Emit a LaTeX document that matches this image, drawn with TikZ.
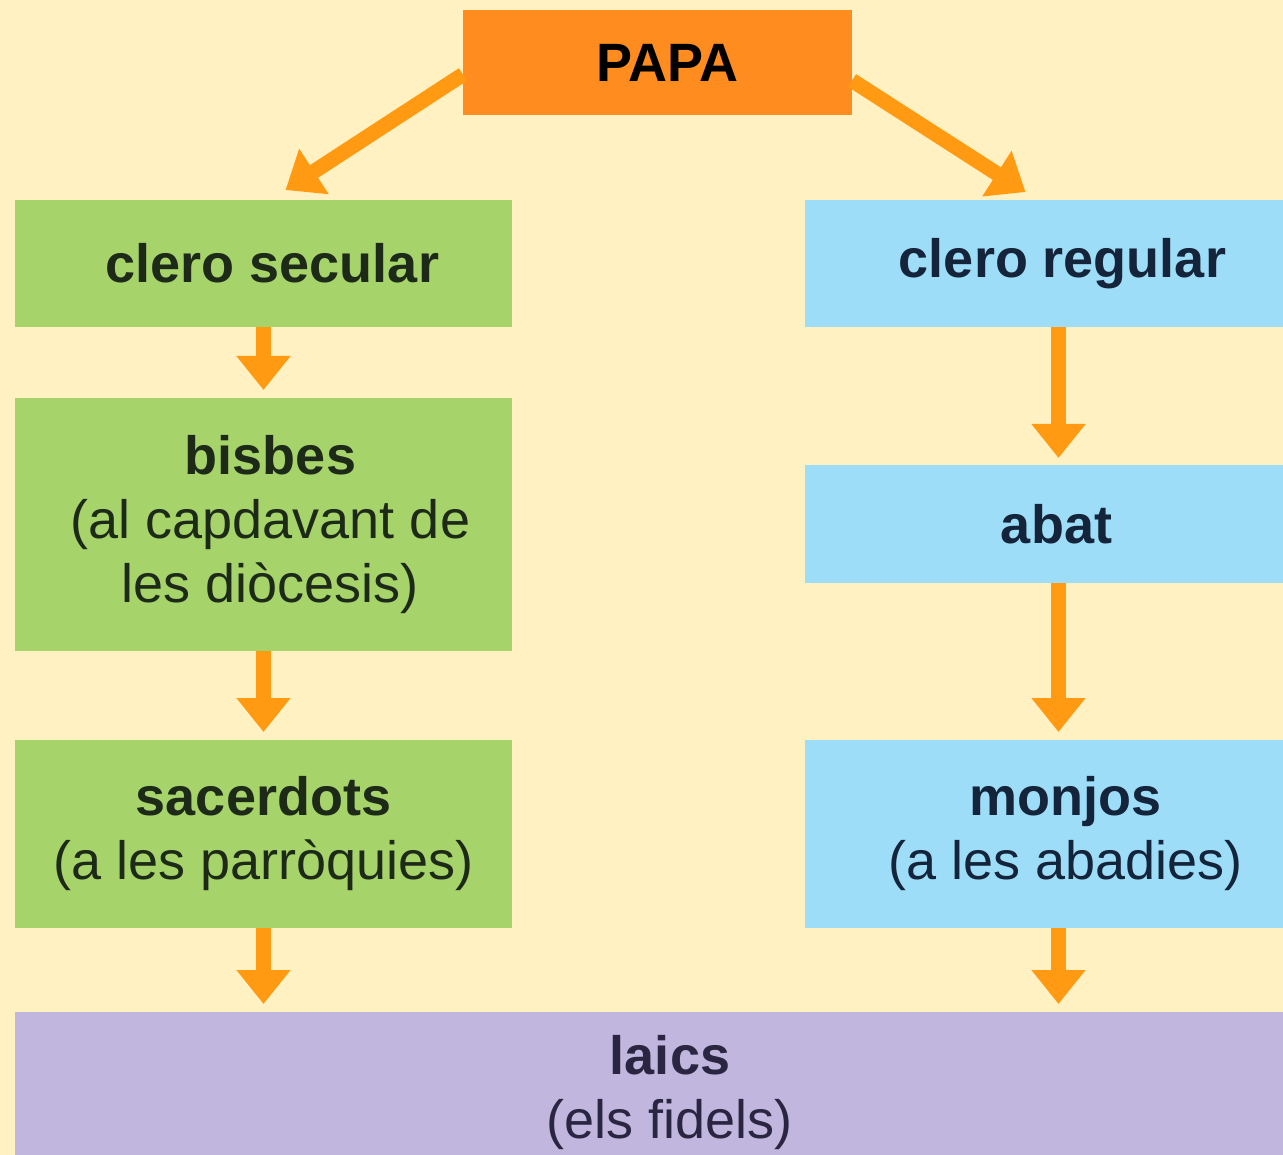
\documentclass[tikz,border=0pt]{standalone}
\usepackage{fontspec}
\setmainfont{Liberation Sans}
\usetikzlibrary{arrows.meta,calc}
\definecolor{bgc}{HTML}{FFF1C1}
\definecolor{papac}{HTML}{FF8C1E}
\definecolor{arrc}{HTML}{FF9A12}
\definecolor{greenc}{HTML}{A6D46B}
\definecolor{bluec}{HTML}{9EDDF8}
\definecolor{purplec}{HTML}{C0B6DE}
\definecolor{gtext}{HTML}{1E2A18}
\definecolor{btext}{HTML}{14243A}
\definecolor{ptext}{HTML}{2A2540}
\begin{document}
\begin{tikzpicture}[x=1pt,y=-1pt,
  box/.style={inner sep=0pt, outer sep=0pt, align=center, anchor=north west,
    font=\fontsize{54}{64}\selectfont},
  gbox/.style={box, fill=greenc, text=gtext, minimum width=497pt},
  bbox/.style={box, fill=bluec, text=btext, minimum width=515pt},
  arr/.style={draw=arrc, line width=15pt, -{Triangle[width=52pt,length=34pt]}}]
\useasboundingbox (0,0) rectangle (1283,1155);
\fill[bgc] (0,0) rectangle (1283,1155);
\begin{scope}
\clip (0,0) rectangle (1283,1155);
\node[box, fill=papac, text=black, minimum width=389pt, minimum height=105pt] (papa) at (463,10) {\hspace*{20pt}\raisebox{-5pt}{\textbf{PAPA}}};
\node[gbox, minimum height=127pt] (cs) at (15,200) {\hspace*{18pt}\textbf{clero secular}};
\node[bbox, minimum height=127pt] (cr) at (805,200) {\textbf{clero regular}};
\node[gbox, minimum height=253pt] (bis) at (15,398) {\hspace*{14pt}\textbf{bisbes}\\\hspace*{14pt}(al capdavant de\\\hspace*{14pt}les diòcesis)};
\node[bbox, minimum height=118pt] (abat) at (805,465) {\hspace*{-12pt}\textbf{abat}};
\node[gbox, minimum height=188pt] (sac) at (15,740) {\textbf{sacerdots}\\(a les parròquies)};
\node[bbox, minimum height=188pt] (mon) at (805,740) {\hspace*{6pt}\textbf{monjos}\\\hspace*{6pt}(a les abadies)};
\node[box, fill=purplec, text=ptext, minimum width=1310pt, minimum height=200pt, text depth=50pt] (laics) at (15,1012) {\textbf{laics}\\(els fidels)};
\end{scope}
\coordinate (ls) at ($(papa.west)+(0,12)$);
\coordinate (le) at ($(cs.north)+(22,-10)$);
\coordinate (rs) at ($(papa.east)+(0,18)$);
\coordinate (re) at ($(cr.north)+(-37,-8)$);
\draw[arr] (ls) -- (le);
\draw[arr] (rs) -- (re);
\draw[arr, shorten >=8pt] (cs.south) -- (bis.north);
\draw[arr, shorten >=8pt] (bis.south) -- (sac.north);
\draw[arr, shorten >=8pt] (sac.south) -- (sac.south |- laics.north);
\draw[arr, shorten >=7pt] ([xshift=-4pt]cr.south) -- ([xshift=-4pt]abat.north);
\draw[arr, shorten >=8pt] ([xshift=-4pt]abat.south) -- ([xshift=-4pt]mon.north);
\draw[arr, shorten >=8pt] ([xshift=-4pt]mon.south) -- ([xshift=-4pt]mon.south |- laics.north);
\end{tikzpicture}
\end{document}
